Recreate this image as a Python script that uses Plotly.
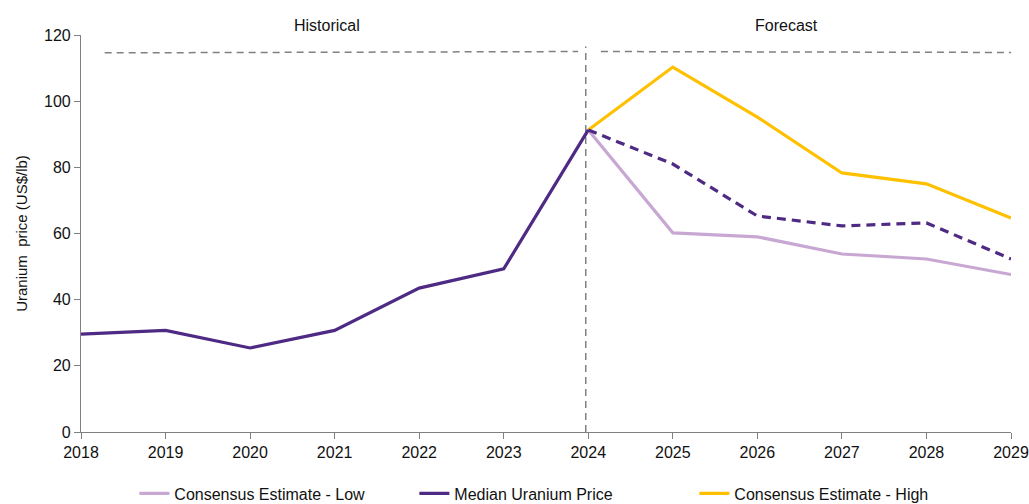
import plotly.graph_objects as go

years_hist = [2018, 2019, 2020, 2021, 2022, 2023, 2024]
median_hist = [29.6, 30.7, 25.4, 30.7, 43.5, 49.3, 91.3]
years_fc = [2024, 2025, 2026, 2027, 2028, 2029]
median_fc = [91.3, 81.0, 65.3, 62.3, 63.2, 52.3]
low_fc = [91.3, 60.2, 59.0, 53.8, 52.3, 47.6]
high_fc = [91.3, 110.3, 95.2, 78.3, 75.0, 64.7]
divider_year = 2023.97
band_level = 115
x_ticks = list(range(2018, 2030))
y_ticks = [0, 20, 40, 60, 80, 100, 120]

PURPLE = "#4E2A84"
LILAC = "#C8A8D3"
GOLD = "#FFC000"
GREY = "#808080"
FONT = "Liberation Sans, Arial, sans-serif"

fig = go.Figure()
fig.add_trace(go.Scatter(x=years_fc, y=low_fc, mode="lines", name="Consensus Estimate - Low",
                         line=dict(color=LILAC, width=3.2), legendrank=1))
fig.add_trace(go.Scatter(x=years_fc, y=high_fc, mode="lines", name="Consensus Estimate - High",
                         line=dict(color=GOLD, width=3.2), legendrank=3))
fig.add_trace(go.Scatter(x=years_fc, y=median_fc, mode="lines", showlegend=False,
                         line=dict(color=PURPLE, width=3.2, dash="9px,6px")))
fig.add_trace(go.Scatter(x=years_hist, y=median_hist, mode="lines", name="Median Uranium Price",
                         line=dict(color=PURPLE, width=3.2), legendrank=2))

# dashed guide lines
fig.add_shape(type="line", xref="x", yref="y", x0=divider_year, x1=divider_year, y0=0, y1=116.5,
              line=dict(color=GREY, width=1.5, dash="7px,5px"), layer="below")
fig.add_shape(type="line", xref="x", yref="y", x0=2018.28, x1=2023.88, y0=band_level - 0.4, y1=band_level,
              line=dict(color=GREY, width=1.5, dash="7px,5px"), layer="below")
fig.add_shape(type="line", xref="x", yref="y", x0=2024.15, x1=2029.3, y0=band_level, y1=band_level - 0.3,
              line=dict(color=GREY, width=1.5, dash="7px,5px"), layer="below")

fig.add_annotation(x=2020.91, y=1.0, xref="x", yref="paper", yshift=10, text="Historical",
                   showarrow=False, font=dict(size=16, color="#111", family=FONT), yanchor="middle")
fig.add_annotation(x=2026.34, y=1.0, xref="x", yref="paper", yshift=10, text="Forecast",
                   showarrow=False, font=dict(size=16, color="#111", family=FONT), yanchor="middle")

fig.update_layout(
    width=1029, height=504,
    margin=dict(l=81, r=18, t=35, b=72, autoexpand=False),
    paper_bgcolor="white", plot_bgcolor="white",
    font=dict(family=FONT, size=16, color="#111"),
    legend=dict(orientation="h", x=0.509, xanchor="center", y=-0.155, yanchor="middle",
                font=dict(size=16), traceorder="normal", entrywidth=235),
)
fig.update_xaxes(range=[2018, 2029], tickvals=x_ticks, ticktext=[str(v) for v in x_ticks],
                 showgrid=False, zeroline=False, showline=True, linecolor=GREY, linewidth=1.2,
                 ticks="outside", tickcolor=GREY, ticklen=6, tickfont=dict(size=16), automargin=False)
fig.update_yaxes(range=[0, 120], tickvals=y_ticks, showgrid=False, zeroline=False,
                 showline=True, linecolor=GREY, linewidth=1.2, ticks="outside", tickcolor=GREY,
                 ticklen=6, tickfont=dict(size=16), automargin=False,
                 title=dict(text="Uranium  price (US$/lb)", font=dict(size=15), standoff=12))

fig.write_html("out.html")
